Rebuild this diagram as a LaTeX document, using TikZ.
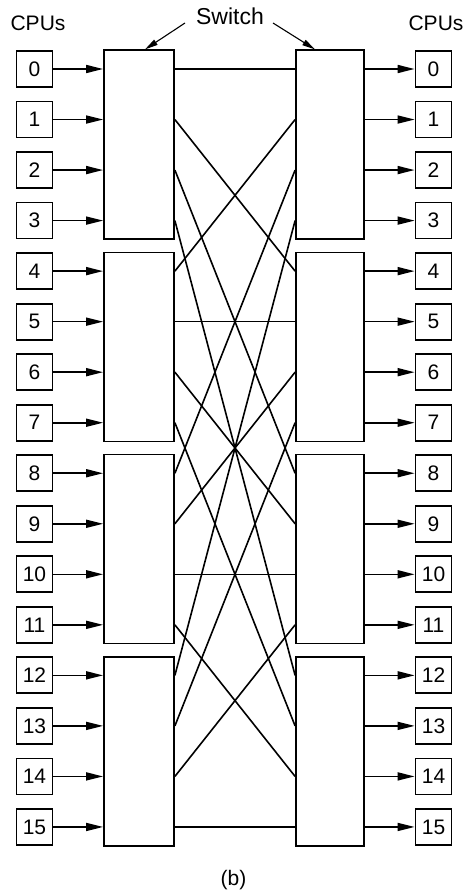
\documentclass[tikz,border=0pt]{standalone}
\usepackage{fontspec}
\setmainfont{Liberation Sans}
\usepackage{tikz}
\usetikzlibrary{arrows.meta,positioning,calc}

\tikzset{
  cpubox/.style={draw,line width=1.8pt,minimum size=36pt,inner sep=0pt},
  swbox/.style={draw,line width=1.8pt,minimum height=189pt,inner sep=0pt},
  wire/.style={line width=1.6pt},
  feed/.style={line width=1.6pt,-{Triangle[length=17pt,width=8pt]}},
}

\begin{document}
\begin{tikzpicture}[x=1pt,y=-1pt,font=\fontsize{21}{25}\selectfont]
  \useasboundingbox (0,0) rectangle (474,894);
  % headings
  \node (lhead) at (38,23) {CPUs};
  \node (rhead) at (436,23) {CPUs};
  \node[font=\fontsize{23}{27}\selectfont] (swlbl) at (230,16) {Switch};
  % switch boxes, two stages
  \foreach \i in {0,...,3} {
    \node[swbox,minimum width=70pt] (lsw\i) at (139,{69+50.53*(4*\i+1.5)}) {};
    \node[swbox,minimum width=68pt] (rsw\i) at (330,{69+50.53*(4*\i+1.5)}) {};
  }
  % cpus and their arrows
  \foreach \r [evaluate=\r as \s using int(\r/4)] in {0,...,15} {
    \node[cpubox] (lcpu\r) at (34.5,{69+50.53*\r}) {\r};
    \node[cpubox] (rcpu\r) at (433.5,{69+50.53*\r}) {\r};
    \draw[feed] (lcpu\r.east) -- (lsw\s.west |- lcpu\r);
    \draw[feed] (rsw\s.east |- rcpu\r) -- (rcpu\r.west);
  }
  % perfect shuffle between stages
  \foreach \i in {0,...,3} {
    \foreach \j in {0,...,3} {
      \pgfmathtruncatemacro\pin{4*\i+\j}
      \pgfmathtruncatemacro\pout{4*\j+\i}
      \draw[wire] (lsw\i.east |- lcpu\pin) -- (rsw\j.west |- rcpu\pout);
    }
  }
  % switch pointers
  \coordinate (swl) at (185,23);
  \coordinate (swr) at (273,23);
  \draw[feed,line width=1.1pt,-{Triangle[length=13pt,width=6pt]}] (swl) -- ([xshift=6pt]lsw0.north);
  \draw[feed,line width=1.1pt,-{Triangle[length=13pt,width=6pt]}] (swr) -- ([xshift=-15pt]rsw0.north);
  % caption
  \node (cap) at (233.5,880) {(b)};
\end{tikzpicture}
\end{document}
